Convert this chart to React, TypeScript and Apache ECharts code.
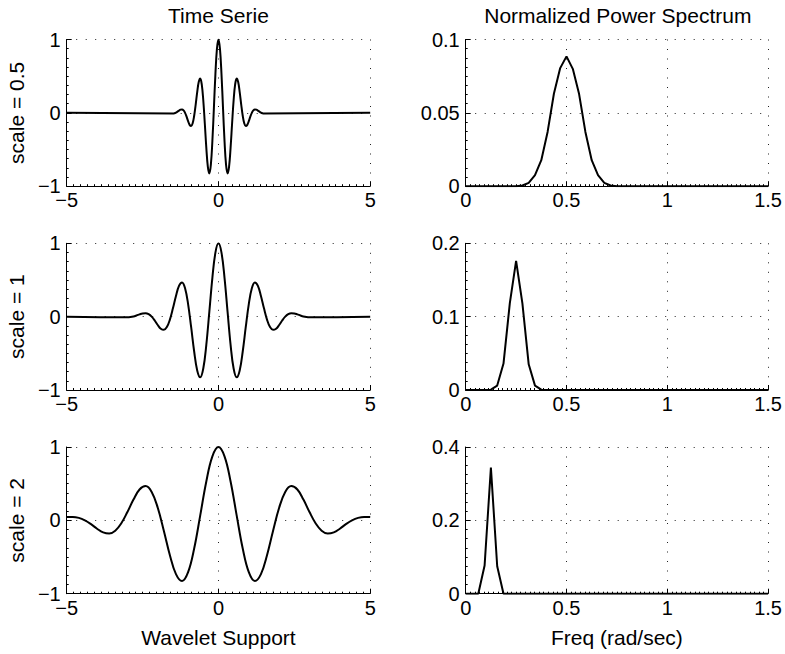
import React, { useEffect, useRef } from "react";
import * as echarts from "echarts";

// ---- Data ----
const scales = [0.5, 1, 2];
const scaleLabels = ["scale = 0.5", "scale = 1", "scale = 2"];

// Wavelet shape sampled on its own support variable t (x = t * scale)
const waveletT = [
  -3.0, -2.9, -2.8, -2.7, -2.6, -2.5, -2.4, -2.3, -2.2, -2.1, -2.0, -1.9, -1.8, -1.7, -1.6, -1.5,
  -1.4, -1.3, -1.2, -1.1, -1.0, -0.9, -0.8, -0.7, -0.6, -0.5, -0.4, -0.3, -0.2, -0.1, 0.0,
  0.1, 0.2, 0.3, 0.4, 0.5, 0.6, 0.7, 0.8, 0.9, 1.0, 1.1, 1.2, 1.3, 1.4, 1.5,
  1.6, 1.7, 1.8, 1.9, 2.0, 2.1, 2.2, 2.3, 2.4, 2.5, 2.6, 2.7, 2.8, 2.9, 3.0,
];
const waveletValues = [
  -0.008, -0.005, 0.003, 0.016, 0.031, 0.044, 0.047, 0.034, 0.0, -0.052, -0.114, -0.164, -0.18, -0.142, -0.04, 0.113,
  0.283, 0.42, 0.467, 0.387, 0.172, -0.141, -0.475, -0.733, -0.827, -0.707, -0.384, 0.068, 0.53, 0.873, 1.0,
  0.873, 0.53, 0.068, -0.384, -0.707, -0.827, -0.733, -0.475, -0.141, 0.172, 0.387, 0.467, 0.42, 0.283, 0.113,
  -0.04, -0.142, -0.18, -0.164, -0.114, -0.052, 0.0, 0.034, 0.047, 0.044, 0.031, 0.016, 0.003, -0.005, -0.008,
];
const supportLimit = 5;

// Normalized power spectra
const spec05Freq = [0, 0.25, 0.28125, 0.3125, 0.34375, 0.375, 0.40625, 0.4375, 0.46875, 0.5, 0.53125, 0.5625, 0.59375, 0.625, 0.65625, 0.6875, 0.71875, 0.75, 1.5];
const spec05Power = [0, 0, 0.0005, 0.0023, 0.0075, 0.0177, 0.037, 0.063, 0.0805, 0.0885, 0.08, 0.0628, 0.037, 0.0177, 0.0075, 0.0023, 0.0005, 0, 0];
const spec1Freq = [0, 0.09375, 0.125, 0.15625, 0.1875, 0.21875, 0.25, 0.28125, 0.3125, 0.34375, 0.375, 0.40625, 1.5];
const spec1Power = [0, 0, 0.0005, 0.006, 0.036, 0.118, 0.176, 0.118, 0.035, 0.006, 0.0005, 0, 0];
const spec2Freq = [0, 0.0625, 0.09375, 0.125, 0.15625, 0.1875, 1.5];
const spec2Power = [0, 0, 0.077, 0.344, 0.075, 0, 0];

const specFreqs = [spec05Freq, spec1Freq, spec2Freq];
const specPowers = [spec05Power, spec1Power, spec2Power];
const specYMax = [0.1, 0.2, 0.4];
const specYInterval = [0.05, 0.1, 0.2];

const FONT = "'Liberation Sans', Arial, Helvetica, sans-serif";
const fmt = (v: number) => String(v).replace("-", "\u2212");

export default function App() {
  const ref = useRef<HTMLDivElement>(null);
  useEffect(() => {
    document.body.style.margin = "0";
    const chart = echarts.init(ref.current!, null, { renderer: "svg" });

    const rowTops = [39.5, 243.3, 447];
    const rowH = 146.7;
    const colLeft = [66.7, 465.7];
    const colW = [303.5, 304.3];

    const grids: any[] = [];
    const xAxes: any[] = [];
    const yAxes: any[] = [];
    const series: any[] = [];

    const gridLine = { show: true, showMinLine: true, showMaxLine: true, lineStyle: { color: "#222", width: 1, type: [1, 8.5] } };
    const axisLabel = { color: "#000", fontFamily: FONT, fontSize: 20, formatter: fmt };
    const axisLine = { show: true, onZero: false, lineStyle: { color: "#000", width: 1 } };
    const axisTick = { show: true, inside: true, length: 5, lineStyle: { color: "#000" } };

    for (let r = 0; r < 3; r++) {
      for (let c = 0; c < 2; c++) {
        const gi = grids.length;
        grids.push({ left: colLeft[c], top: rowTops[r], width: colW[c], height: rowH, containLabel: false });
        const isLast = r === 2;
        if (c === 0) {
          xAxes.push({
            type: "value", gridIndex: gi, min: -5, max: 5, interval: 5,
            axisLine, axisTick, splitLine: gridLine,
            minorTick: { show: true, splitNumber: 22, length: 2, lineStyle: { color: "#000" } },
            axisLabel: { ...axisLabel, margin: 4 },
            name: isLast ? "Wavelet Support" : "", nameLocation: "middle", nameGap: 33,
            nameTextStyle: { color: "#000", fontFamily: FONT, fontSize: 21 },
          });
          yAxes.push({
            type: "value", gridIndex: gi, min: -1, max: 1, interval: 1,
            axisLine, axisTick, splitLine: gridLine,
            minorTick: { show: true, splitNumber: 8, length: 2, lineStyle: { color: "#000" } },
            axisLabel: { ...axisLabel, margin: 6 },
            name: scaleLabels[r], nameLocation: "middle", nameGap: 40,
            nameTextStyle: { color: "#000", fontFamily: FONT, fontSize: 21 },
          });
          const s = scales[r];
          const pts: number[][] = [];
          waveletT.forEach((t, i) => {
            const x = t * s;
            if (Math.abs(x) <= supportLimit + 1e-9) pts.push([x, waveletValues[i]]);
          });
          if (pts[0][0] > -supportLimit) pts.unshift([-supportLimit, 0]);
          if (pts[pts.length - 1][0] < supportLimit) pts.push([supportLimit, 0]);
          series.push({
            type: "line", xAxisIndex: gi, yAxisIndex: gi, data: pts, showSymbol: false,
            smooth: 0.4, lineStyle: { color: "#000", width: 2 }, z: 5,
          });
        } else {
          xAxes.push({
            type: "value", gridIndex: gi, min: 0, max: 1.5, interval: 0.5,
            axisLine, axisTick, splitLine: gridLine,
            minorTick: { show: true, splitNumber: 22, length: 2, lineStyle: { color: "#000" } },
            axisLabel: { ...axisLabel, margin: 4 },
            name: isLast ? "Freq (rad/sec)" : "", nameLocation: "middle", nameGap: 33,
            nameTextStyle: { color: "#000", fontFamily: FONT, fontSize: 21 },
          });
          yAxes.push({
            type: "value", gridIndex: gi, min: 0, max: specYMax[r], interval: specYInterval[r],
            axisLine, axisTick, splitLine: gridLine,
            minorTick: { show: true, splitNumber: 8, length: 2, lineStyle: { color: "#000" } },
            axisLabel: { ...axisLabel, margin: 6 },
          });
          series.push({
            type: "line", xAxisIndex: gi, yAxisIndex: gi,
            data: specFreqs[r].map((f, i) => [f, specPowers[r][i]]),
            showSymbol: false, lineStyle: { color: "#000", width: 2 }, z: 5,
          });
        }
      }
    }

    chart.setOption({
      animation: false,
      backgroundColor: "#fff",
      grid: grids,
      xAxis: xAxes,
      yAxis: yAxes,
      series,
      graphic: [
        { type: "text", x: colLeft[0] + colW[0] / 2, y: 15, style: { text: "Time Serie", fill: "#000", font: `21px ${FONT}`, textAlign: "center", textVerticalAlign: "middle" } },
        { type: "text", x: colLeft[1] + colW[1] / 2, y: 15, style: { text: "Normalized Power Spectrum", fill: "#000", font: `21px ${FONT}`, textAlign: "center", textVerticalAlign: "middle" } },
      ],
    });
    return () => chart.dispose();
  }, []);
  return <div ref={ref} style={{ position: "fixed", left: 0, top: 0, width: 785, height: 654 }} />;
}
